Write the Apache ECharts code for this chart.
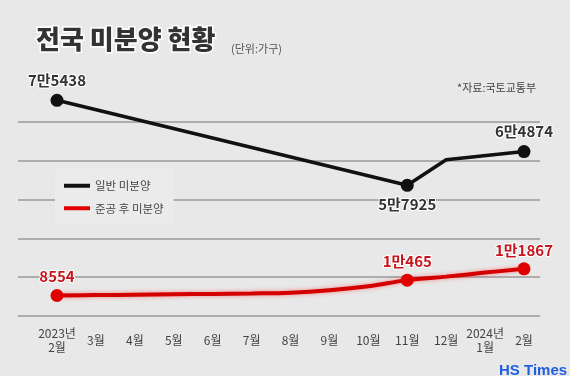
<!DOCTYPE html>
<html>
<head>
<meta charset="utf-8">
<script src="https://cdn.jsdelivr.net/npm/echarts@6/dist/echarts.min.js"></script>
<style>
  html, body { margin: 0; padding: 0; background: #e8e8e8; }
  #chart { width: 570px; height: 376px; }
</style>
</head>
<body>
<div id="chart"></div>
<script>
// 월 (x축)
const months = ['2023년\n2월', '3월', '4월', '5월', '6월', '7월', '8월', '9월', '10월', '11월', '12월', '2024년\n1월', '2월']
// 일반 미분양 (값이 없는 달은 null)
const generalData = [75438, null, null, null, null, null, null, null, null, 57925, 63200, null, 64874]
// 준공 후 미분양
const completedData = [8554, 8600, 8650, 8700, 8750, 8800, 8900, 9200, 9700, 10465, 10900, 11400, 11867]
// 라벨/점 표시할 인덱스
const generalMarked = [0, 9, 12]
const completedMarked = [0, 9, 12]
// 라벨을 점 아래에 두는 인덱스
const generalBelow = [9]

const fontKR = 'Noto Sans CJK KR'

// 숫자 -> "7만5438"
const toKorean = (v) => {
  const man = Math.floor(v / 10000)
  const rest = v % 10000
  return man > 0 ? man + '만' + rest : String(rest)
}

const chart = echarts.init(document.getElementById('chart'))

const option = {
  backgroundColor: '#e8e8e8',
  title: [
    {
      text: '전국 미분양 현황',
      left: 31, top: 21,
      textStyle: {
        fontFamily: fontKR, fontSize: 26, fontWeight: 900, color: '#333',
        textBorderColor: '#fff', textBorderWidth: 3
      }
    },
    {
      text: '(단위:가구)',
      left: 226, top: 38,
      textStyle: { fontFamily: fontKR, fontSize: 11, fontWeight: 'normal', color: '#555' }
    },
    {
      text: '*자료:국토교통부',
      left: 452, top: 77,
      textStyle: { fontFamily: fontKR, fontSize: 11, fontWeight: 'normal', color: '#444' }
    },
    {
      text: 'HS Times',
      left: 494, top: 358,
      textStyle: { fontFamily: 'Liberation Sans', fontSize: 15, fontWeight: 'bold', color: '#1f5fe0' }
    }
  ],
  legend: {
    orient: 'vertical',
    left: 55, top: 169,
    padding: [11, 10, 10, 9],
    itemGap: 11,
    itemWidth: 26, itemHeight: 4,
    backgroundColor: '#ebebeb',
    textStyle: { fontFamily: fontKR, fontSize: 11.5, color: '#444' },
    data: [
      { name: '일반 미분양', icon: 'rect' },
      { name: '준공 후 미분양', icon: 'rect' }
    ]
  },
  grid: [
    // 배경 가로선용
    { left: 18, right: 30, top: 83, bottom: 60 },
    // 실제 데이터
    { left: 57, right: 46, top: 83, bottom: 60 }
  ],
  xAxis: [
    { gridIndex: 0, type: 'value', show: false, min: 0, max: 1 },
    {
      gridIndex: 1,
      type: 'category',
      boundaryGap: false,
      data: months,
      axisLine: { show: false },
      axisTick: { show: false },
      axisLabel: {
        interval: 0,
        margin: 24,
        verticalAlign: 'middle',
        lineHeight: 14,
        fontFamily: fontKR, fontSize: 12, color: '#444'
      }
    }
  ],
  yAxis: [
    {
      gridIndex: 0, type: 'value', min: 0, max: 6, interval: 1,
      axisLine: { show: false }, axisTick: { show: false }, axisLabel: { show: false },
      splitLine: { show: true, showMaxLine: false, lineStyle: { color: '#9a9a9a', width: 1.5 } }
    },
    { gridIndex: 1, type: 'value', min: 31000, max: 79000, show: false, splitLine: { show: false } },
    { gridIndex: 1, type: 'value', min: 6000, max: 35000, show: false, splitLine: { show: false } }
  ],
  series: [
    {
      name: '일반 미분양',
      type: 'line',
      xAxisIndex: 1, yAxisIndex: 1,
      data: generalData.map((v, i) => generalBelow.includes(i) ? { value: v, label: { position: 'bottom', distance: 5 } } : v),
      connectNulls: true,
      color: '#111',
      lineStyle: { width: 3.5, color: '#111' },
      symbol: 'circle',
      symbolSize: (v, p) => generalMarked.includes(p.dataIndex) ? 13 : 0,
      itemStyle: { color: '#111' },
      label: {
        show: true,
        position: 'top',
        distance: 6,
        formatter: (p) => generalMarked.includes(p.dataIndex) ? toKorean(p.value) : '',
        fontFamily: fontKR, fontSize: 15, fontWeight: 'bold', color: '#333',
        textBorderColor: '#fff', textBorderWidth: 2
      },
      z: 3
    },
    {
      name: '준공 후 미분양',
      type: 'line',
      xAxisIndex: 1, yAxisIndex: 2,
      data: completedData,
      smooth: 0.4,
      color: '#d40000',
      lineStyle: { width: 4, color: '#d40000', shadowColor: 'rgba(255,40,40,0.5)', shadowBlur: 4 },
      symbol: 'circle',
      symbolSize: (v, p) => completedMarked.includes(p.dataIndex) ? 13 : 0,
      itemStyle: { color: '#e00000' },
      label: {
        show: true,
        position: 'top',
        distance: 5,
        formatter: (p) => completedMarked.includes(p.dataIndex) ? toKorean(p.value) : '',
        fontFamily: fontKR, fontSize: 15, fontWeight: 'bold', color: '#c4161c',
        textBorderColor: '#fff', textBorderWidth: 2
      },
      z: 3
    }
  ]
}

chart.setOption(option)
</script>
</body>
</html>
